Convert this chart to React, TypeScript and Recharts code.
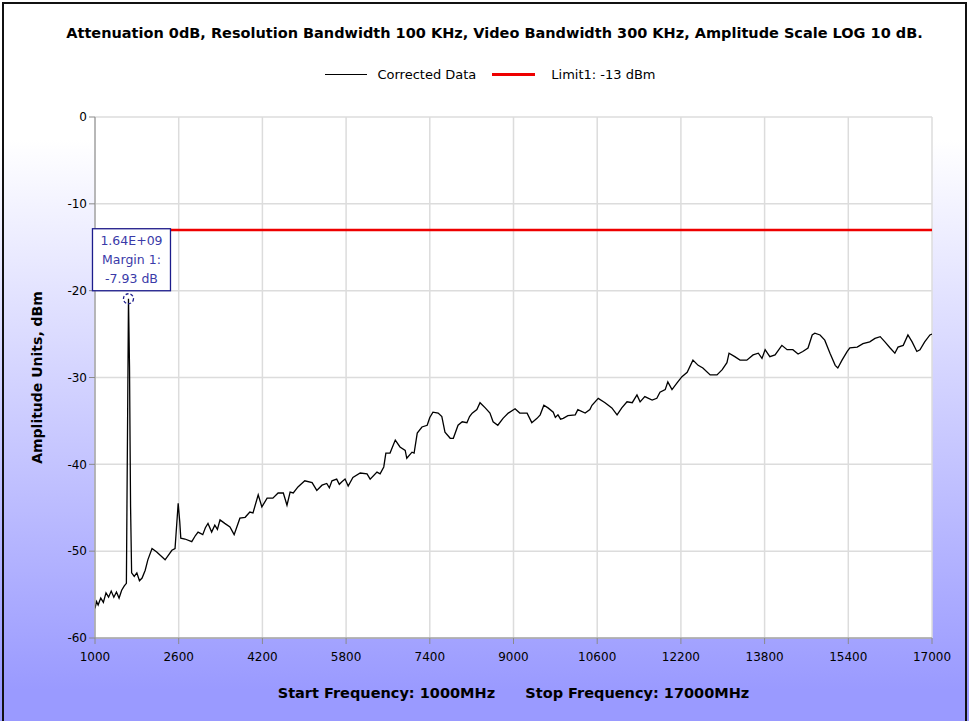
import React from 'react'
import {
  LineChart, Line, XAxis, YAxis, CartesianGrid, ReferenceLine,
  ReferenceDot, Label,
} from 'recharts'

// sweep points, MHz
const freqs = [
  1000, 1030, 1060, 1110, 1160, 1210, 1260, 1310, 1360, 1410, 1460, 1510, 1560, 1600, 1620,
  1640, 1660, 1670, 1680, 1700,
  1750, 1800, 1850, 1900, 1960, 2010, 2090, 2180, 2340, 2470, 2530, 2590, 2620, 2640, 2720, 2850,
  2920, 2970, 3060, 3110, 3160, 3230, 3290, 3340, 3390, 3480, 3580, 3660, 3770, 3870, 3960, 4020, 4120,
  4190, 4290, 4400, 4500, 4600, 4670, 4730, 4790, 4880, 5010, 5150, 5240, 5340, 5430,
  5480, 5530, 5620, 5670, 5720, 5780, 5840, 5930, 6070, 6200, 6260, 6390, 6450, 6520, 6560, 6640,
  6740, 6830, 6930, 6960, 7060, 7100, 7160, 7250, 7350, 7400, 7460, 7560, 7630, 7690,
  7790, 7850, 7940, 8020, 8110, 8160, 8210, 8300, 8360, 8460, 8550, 8610, 8700, 8800, 8900,
  9030, 9120, 9260, 9350, 9450, 9510, 9580, 9660, 9760, 9800, 9850, 9900, 9950, 10040, 10180, 10230,
  10370, 10460, 10500, 10620, 10750, 10880, 10980, 11070, 11170, 11270, 11360, 11420,
  11510, 11650, 11740, 11800, 11900, 11950, 12030, 12130, 12220, 12320, 12430, 12530,
  12620, 12760, 12890, 12990, 13080, 13120, 13230, 13330, 13460, 13580, 13680, 13750, 13810,
  13900, 14000, 14130, 14230, 14340, 14440, 14530, 14630, 14710, 14760, 14860, 14950,
  15050, 15150, 15200, 15280, 15380, 15430, 15570, 15680, 15810, 15910, 16010, 16100,
  16200, 16290, 16350, 16450, 16540, 16620, 16710, 16770, 16860, 16960, 17000,
]

// corrected amplitude, dBm
const levels = [
  -56.6, -55.8, -56.2, -55.4, -55.9, -54.8, -55.3, -54.6, -55.3, -54.7, -55.4, -54.5, -54.0, -53.7, -37.4,
  -20.93, -28.9, -37.2, -44.9, -52.5,
  -52.9, -52.5, -53.4, -53.1, -52.2, -51.0, -49.7, -50.1, -51.0, -49.9, -49.7, -44.5, -46.6, -48.5, -48.6, -48.9,
  -48.2, -47.8, -48.1, -47.3, -46.8, -47.8, -47.0, -47.5, -46.4, -46.8, -47.2, -48.1, -46.2, -46.1, -45.5, -45.6, -43.5,
  -44.9, -43.9, -43.9, -43.3, -43.3, -44.7, -43.2, -43.3, -42.6, -41.9, -42.1, -43.0, -42.4, -42.2,
  -42.7, -41.9, -41.7, -42.3, -42.0, -41.7, -42.5, -41.5, -41.0, -41.1, -41.7, -40.9, -41.1, -40.3, -38.7, -38.7,
  -37.2, -38.0, -38.4, -39.3, -38.6, -38.7, -36.4, -35.7, -35.5, -34.6, -34.0, -34.1, -34.5, -36.3,
  -37.0, -37.0, -35.5, -35.1, -35.2, -34.5, -34.1, -33.7, -32.9, -33.5, -34.1, -35.1, -35.5, -34.7, -34.1,
  -33.6, -34.1, -34.1, -35.2, -34.7, -34.3, -33.2, -33.5, -34.0, -34.6, -34.3, -34.8, -34.7, -34.4, -34.3, -33.7,
  -34.1, -33.7, -33.2, -32.4, -32.9, -33.5, -34.3, -33.5, -32.8, -32.9, -32.0, -32.8,
  -32.2, -32.6, -32.4, -31.7, -31.4, -30.5, -31.4, -30.6, -29.9, -29.4, -28.0, -28.6,
  -28.9, -29.7, -29.7, -29.1, -28.3, -27.2, -27.6, -28.0, -28.0, -27.4, -27.2, -27.8, -26.8,
  -27.6, -27.4, -26.3, -26.8, -26.8, -27.3, -27.0, -26.6, -25.1, -24.9, -25.1, -25.7,
  -27.2, -28.6, -28.9, -28.0, -27.0, -26.6, -26.5, -26.1, -25.9, -25.5, -25.3, -25.9,
  -26.6, -27.2, -26.5, -26.3, -25.1, -25.9, -27.0, -26.8, -25.9, -25.1, -25.0,
]

const freqTicks = [1000, 2600, 4200, 5800, 7400, 9000, 10600, 12200, 13800, 15400, 17000]
const ampTicks = [0, -10, -20, -30, -40, -50, -60]

const limitLevel = -13
const markerFreq = 1640
const markerLevel = -20.93
const markerLines = ['1.64E+09', 'Margin 1:', '-7.93 dB']

const data = freqs.map((f, i) => ({ freq: f, level: levels[i] }))

const FONT = 'Verdana, "DejaVu Sans", sans-serif'

function MarkerShape(props: any) {
  const { cx, cy } = props
  const bx = cx - 36
  const by = cy - 70
  return (
    <g>
      <circle cx={cx} cy={cy} r={5} fill="none" stroke="#1c1c8c" strokeWidth={1.3} strokeDasharray="3 2" />
      <rect x={bx} y={by} width={78} height={62} fill="#fff" stroke="#1c1c8c" strokeWidth={1.3} />
      {markerLines.map((t, i) => (
        <text key={t} x={bx + 39} y={by + 16 + i * 19} textAnchor="middle"
          fontFamily={FONT} fontSize={12.5} fill="#3a3aa8">{t}</text>
      ))}
    </g>
  )
}

export default function App() {
  return (
    <div style={{
      position: 'absolute', left: 0, top: 0, width: 969, height: 721, overflow: 'hidden',
      background: 'linear-gradient(to bottom, #ffffff 0px, #ffffff 140px, #9a9aff 690px, #9a9aff 721px)',
    }}>
      <div style={{
        position: 'absolute', left: 2, top: 2, width: 961, height: 740,
        border: '2px solid #111', pointerEvents: 'none',
      }} />
      <div style={{
        position: 'absolute', left: 10, top: 25, width: 969, textAlign: 'center',
        fontFamily: FONT, fontSize: 14.5, fontWeight: 'bold', color: '#000',
      }}>
        Attenuation 0dB, Resolution Bandwidth 100 KHz, Video Bandwidth 300 KHz, Amplitude Scale LOG 10 dB.
      </div>
      <div style={{
        position: 'absolute', left: 6, top: 67, width: 969,
        display: 'flex', justifyContent: 'center', alignItems: 'center',
        fontFamily: FONT, fontSize: 13, color: '#000',
      }}>
        <span style={{ display: 'inline-block', width: 42, height: 1, background: '#000', marginRight: 10 }} />
        <span style={{ marginRight: 16 }}>Corrected Data</span>
        <span style={{ display: 'inline-block', width: 43, height: 3, background: '#e00', marginRight: 16 }} />
        <span>Limit1: -13 dBm</span>
      </div>
      <LineChart width={969} height={721} data={data}
        margin={{ top: 117, right: 37, bottom: 23, left: 25 }}>
        <CartesianGrid fill="#fff" stroke="#dcdcdc" strokeWidth={1.5}
          horizontalValues={ampTicks} verticalValues={freqTicks} />
        <XAxis dataKey="freq" type="number" domain={[1000, 17000]} ticks={freqTicks}
          allowDataOverflow interval={0} height={60}
          stroke="#8a8a8a" tickSize={6} tickMargin={8}
          tick={{ fontFamily: FONT, fontSize: 12, fill: '#000' }}>
          <Label position="insideBottom" offset={0}
            value={'Start Frequency: 1000MHz\u00a0\u00a0\u00a0\u00a0\u00a0\u00a0Stop Frequency: 17000MHz'}
            style={{ fontFamily: FONT, fontSize: 14.5, fontWeight: 'bold', fill: '#000' }} />
        </XAxis>
        <YAxis type="number" domain={[-60, 0]} ticks={ampTicks} interval={0} width={70}
          stroke="#8a8a8a" tickSize={6} tickMargin={2}
          tick={{ fontFamily: FONT, fontSize: 12, fill: '#000' }}>
          <Label angle={-90} position="insideLeft" offset={12}
            value="Amplitude Units, dBm"
            style={{ fontFamily: FONT, fontSize: 14, fontWeight: 'bold', fill: '#000', textAnchor: 'middle' }} />
        </YAxis>
        <ReferenceLine y={limitLevel} stroke="#ee0000" strokeWidth={2.5} />
        <Line dataKey="level" type="linear" stroke="#000" strokeWidth={1.3}
          dot={false} isAnimationActive={false} />
        <ReferenceDot x={markerFreq} y={markerLevel} shape={MarkerShape} />
      </LineChart>
    </div>
  )
}
